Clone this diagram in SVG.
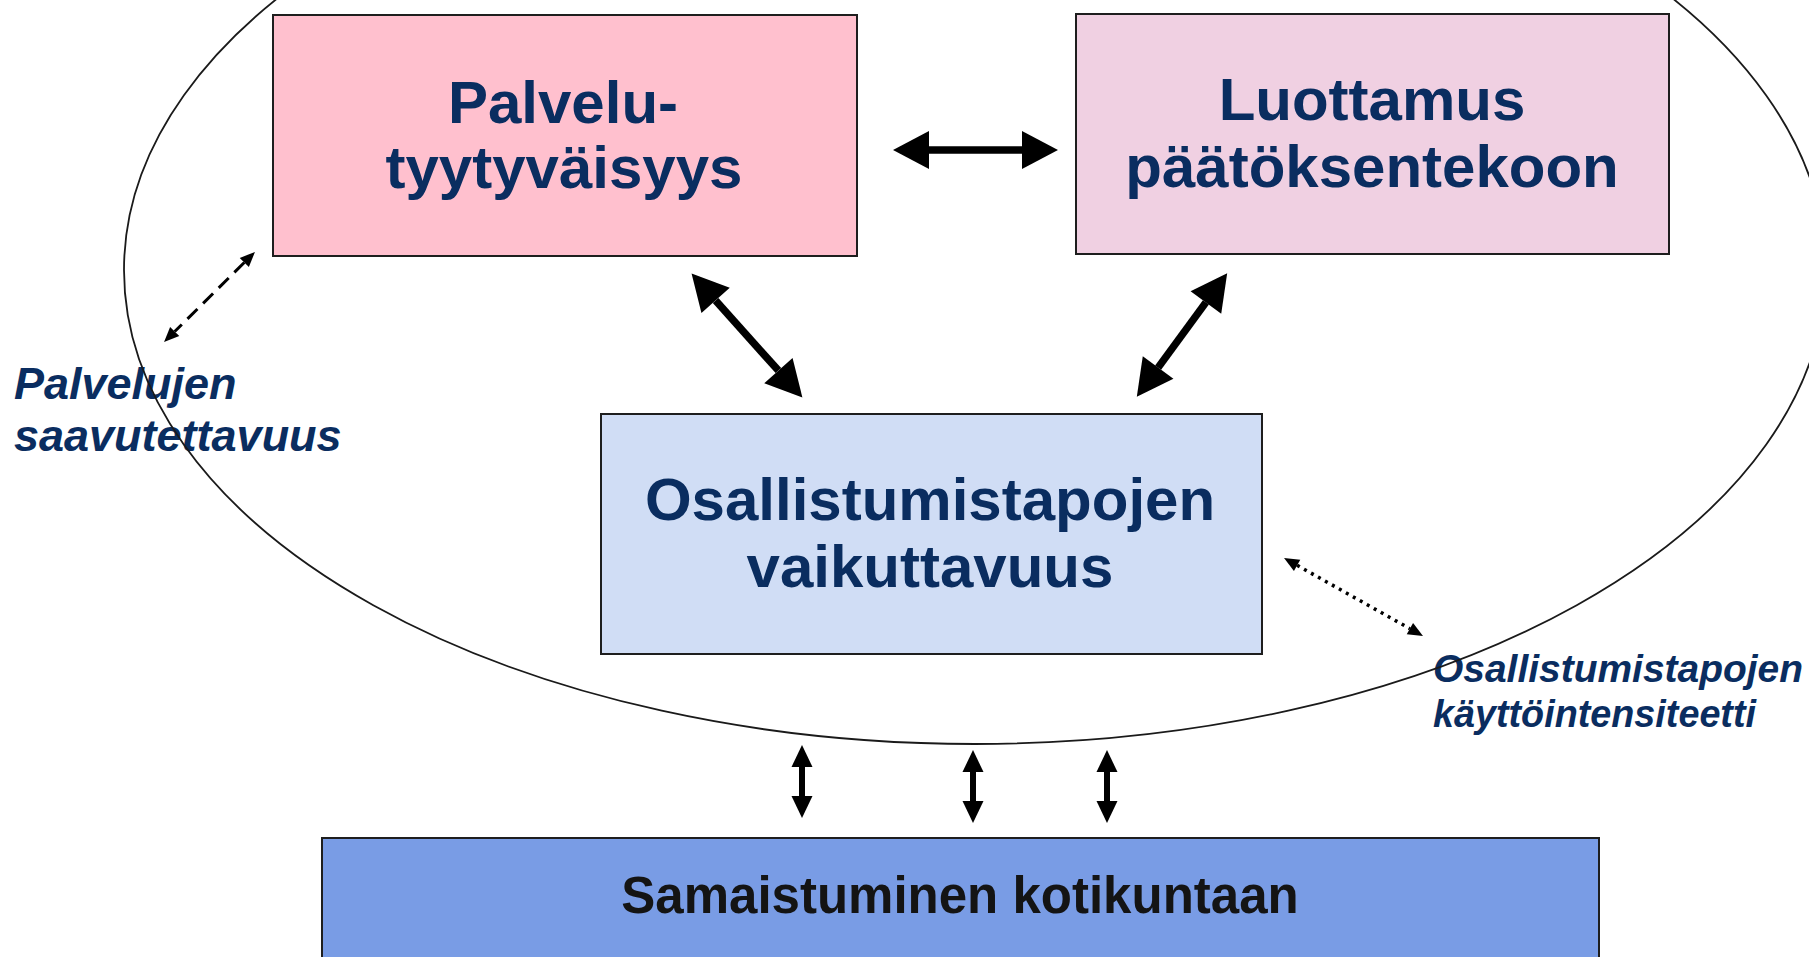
<svg xmlns="http://www.w3.org/2000/svg" width="1809" height="957" viewBox="0 0 1809 957">
<style>
.box{stroke:#1e1e1e;stroke-width:2}
.main{font-family:"Liberation Sans",Arial,sans-serif;font-weight:bold;font-size:60px;fill:#0a2d60;text-anchor:middle}
.lab{font-family:"Liberation Sans",Arial,sans-serif;font-weight:bold;font-style:italic;fill:#0a2d60}
.thick{stroke:#000;stroke-width:7.5;fill:none}
.mid{stroke:#000;stroke-width:6;fill:none}
.dash{stroke:#000;stroke-width:3;fill:none;stroke-dasharray:14 8}
.dot{stroke:#000;stroke-width:3.5;fill:none;stroke-dasharray:3 5}
</style>
<defs>
<marker id="hL" markerUnits="userSpaceOnUse" markerWidth="36" markerHeight="38" refX="0" refY="19" orient="auto-start-reverse" overflow="visible"><path d="M0,0 L36,19 L0,38 z" fill="#000"/></marker>
<marker id="hM" markerUnits="userSpaceOnUse" markerWidth="22" markerHeight="21" refX="0" refY="10.5" orient="auto-start-reverse" overflow="visible"><path d="M0,0 L22,10.5 L0,21 z" fill="#000"/></marker>
<marker id="hS" markerUnits="userSpaceOnUse" markerWidth="15" markerHeight="13" refX="0" refY="6.5" orient="auto-start-reverse" overflow="visible"><path d="M0,0 L15,6.5 L0,13 z" fill="#000"/></marker>
</defs>
<rect width="1809" height="957" fill="#fff"/>
<g id="label-saavutettavuus">
<text class="lab" x="14" y="399" font-size="45">Palvelujen</text>
<text class="lab" x="14" y="451" font-size="45">saavutettavuus</text>
</g>
<g id="label-intensiteetti">
<text class="lab" x="1433" y="682" font-size="39" textLength="370" lengthAdjust="spacingAndGlyphs">Osallistumistapojen</text>
<text class="lab" x="1433" y="727" font-size="39" textLength="323" lengthAdjust="spacingAndGlyphs">käyttöintensiteetti</text>
</g>
<g id="boundary">
<ellipse cx="975" cy="270" rx="851" ry="474" fill="none" stroke="#1a1a1a" stroke-width="1.8"/>
</g>
<g id="node-palvelutyytyvaisyys">
<rect class="box" x="273" y="15" width="584" height="241" fill="#ffc0ce"/>
<text class="main" x="563" y="123">Palvelu-</text>
<text class="main" x="564" y="188">tyytyväisyys</text>
</g>
<g id="node-luottamus">
<rect class="box" x="1076" y="14" width="593" height="240" fill="#f0d0e2"/>
<text class="main" x="1372" y="120">Luottamus</text>
<text class="main" x="1372" y="187">päätöksentekoon</text>
</g>
<g id="node-vaikuttavuus">
<rect class="box" x="601" y="414" width="661" height="240" fill="#d0ddf5"/>
<text class="main" x="930" y="520">Osallistumistapojen</text>
<text class="main" x="930" y="587">vaikuttavuus</text>
</g>
<g id="node-samaistuminen">
<rect class="box" x="322" y="838" width="1277" height="130" fill="#799ce5"/>
<text x="960" y="913" font-family="Liberation Sans,Arial,sans-serif" font-weight="bold" font-size="51" fill="#141414" text-anchor="middle">Samaistuminen kotikuntaan</text>
</g>
<g id="connectors">
<line class="thick" x1="929" y1="150" x2="1022" y2="150" marker-start="url(#hL)" marker-end="url(#hL)"/>
<line class="thick" x1="715.6" y1="300.4" x2="778.4" y2="370.6" marker-start="url(#hL)" marker-end="url(#hL)"/>
<line class="thick" x1="1205.9" y1="302.4" x2="1158.1" y2="367.6" marker-start="url(#hL)" marker-end="url(#hL)"/>
<line class="mid" x1="802" y1="767" x2="802" y2="796" marker-start="url(#hM)" marker-end="url(#hM)"/>
<line class="mid" x1="973" y1="772" x2="973" y2="801" marker-start="url(#hM)" marker-end="url(#hM)"/>
<line class="mid" x1="1107" y1="772" x2="1107" y2="801" marker-start="url(#hM)" marker-end="url(#hM)"/>
<line class="dash" x1="244.3" y1="262.5" x2="174.7" y2="331.5" marker-start="url(#hS)" marker-end="url(#hS)"/>
<line class="dot" x1="1297.1" y1="565.3" x2="1409.9" y2="628.7" marker-start="url(#hS)" marker-end="url(#hS)"/>
</g>
</svg>
